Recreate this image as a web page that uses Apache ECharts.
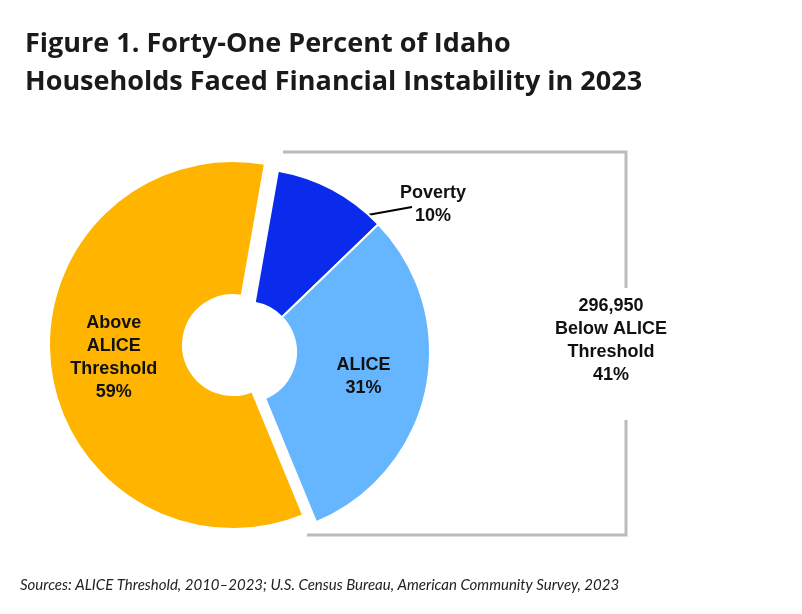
<!DOCTYPE html>
<html><head><meta charset="utf-8">
<script src="https://cdn.jsdelivr.net/npm/echarts@6/dist/echarts.min.js"></script>
<style>html,body{margin:0;background:#fff}#main{width:802px;height:614px}</style>
</head><body><div id="main"></div>
<script>
var names = ['Poverty', 'ALICE', 'Above ALICE Threshold'];
var values = [10, 31, 59];
var colors = ['#0A2BEB', '#66B5FF', '#FFB400'];
var labels = ['', 'ALICE\n31%', 'Above\nALICE\nThreshold\n59%'];

var chart = echarts.init(document.getElementById('main'));
var lbl = { fontFamily: 'Liberation Sans', fontWeight: 'bold', fontSize: 18, color: '#111', lineHeight: 23 };

function slices(keep) {
  return values.map(function (v, i) {
    var show = keep.indexOf(i) >= 0;
    return {
      name: names[i], value: v,
      itemStyle: { color: show ? colors[i] : 'rgba(0,0,0,0)', borderColor: show ? '#fff' : 'rgba(0,0,0,0)', borderWidth: 2 },
      label: { show: show && labels[i] !== '', formatter: labels[i], position: 'inside' }
    };
  });
}

chart.setOption({
  animation: false,
  title: {
    text: 'Figure 1. Forty-One Percent of Idaho\nHouseholds Faced Financial Instability in 2023',
    left: 20, top: 20,
    textStyle: { fontFamily: 'Open Sans', fontWeight: 'bold', fontSize: 27, lineHeight: 38, color: '#1a1a1a' }
  },
  graphic: [
    { type: 'polyline', shape: { points: [[283, 152], [626, 152], [626, 288]] }, style: { stroke: '#bbb', lineWidth: 3, fill: null } },
    { type: 'polyline', shape: { points: [[626, 420], [626, 535], [307, 535]] }, style: { stroke: '#bbb', lineWidth: 3, fill: null } },
    { type: 'text', left: 555, top: 295, style: { text: '296,950\nBelow ALICE\nThreshold\n41%', fontFamily: 'Liberation Sans', fontWeight: 'bold', fontSize: 18, lineHeight: 23, fill: '#111', textAlign: 'center' } },
    { type: 'line', shape: { x1: 312, y1: 225, x2: 412, y2: 207 }, style: { stroke: '#000', lineWidth: 2 } },
    { type: 'text', left: 400, top: 182, style: { text: 'Poverty\n10%', fontFamily: 'Liberation Sans', fontWeight: 'bold', fontSize: 18, lineHeight: 23, fill: '#111', textAlign: 'center' } },
    { type: 'text', left: 20, top: 578, style: { text: 'Sources: ALICE Threshold, 2010–2023; U.S. Census Bureau, American Community Survey, 2023', fontFamily: 'Lato', fontStyle: 'italic', fontSize: 15, fill: '#222' } }
  ],
  series: [
    { type: 'pie', center: [233, 345], radius: [50, 184], startAngle: 80, clockwise: true, silent: true,
      label: lbl, labelLine: { show: false }, data: slices([2]) },
    { type: 'pie', center: [246, 352], radius: [50, 184], startAngle: 80, clockwise: true, silent: true,
      label: lbl, labelLine: { show: false }, data: slices([0, 1]) }
  ]
});
</script></body></html>
